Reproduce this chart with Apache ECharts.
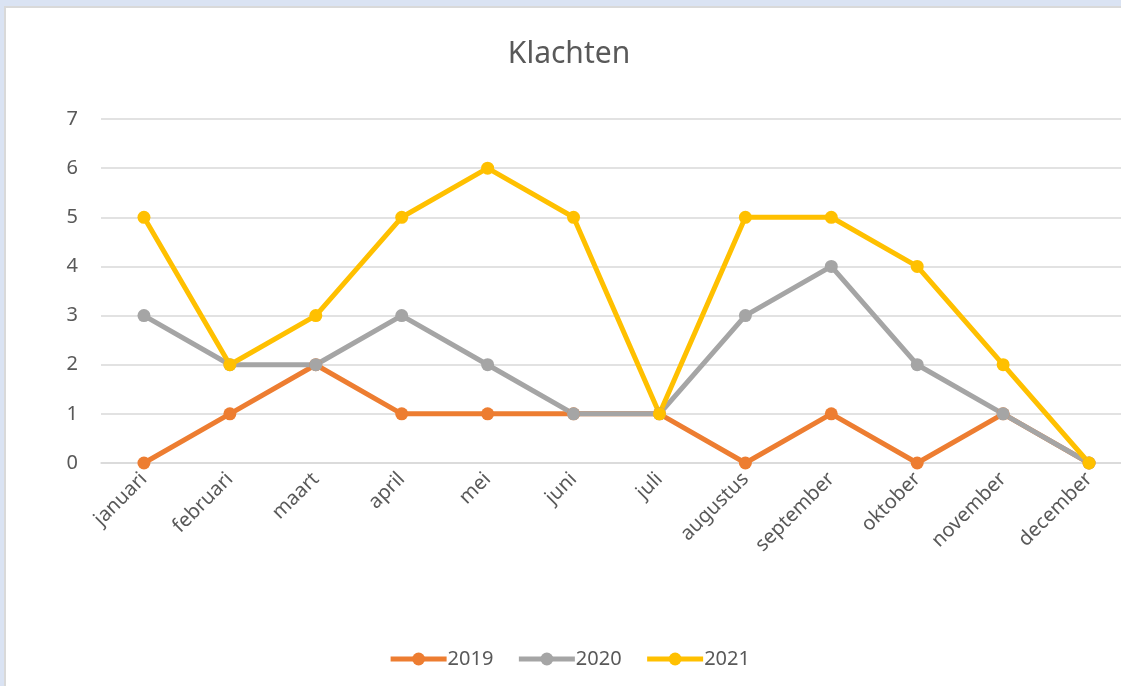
<!DOCTYPE html>
<html>
<head>
<meta charset="utf-8">
<script src="https://cdn.jsdelivr.net/npm/echarts@6/dist/echarts.min.js"></script>
<style>
html,body{margin:0;padding:0;width:1121px;height:686px;overflow:hidden;background:#dae3f3;}
#wrap{position:absolute;left:4px;top:6px;width:1200px;height:700px;border-top:2px solid #d9d9d9;border-left:2px solid #d9d9d9;background:#fff;}
#chart{position:absolute;left:0;top:0;width:1126px;height:678px;}
</style>
</head>
<body>
<div id="wrap"><div id="chart"></div></div>
<script>
const categories = ['januari','februari','maart','april','mei','juni','juli','augustus','september','oktober','november','december'];
const yearLabels = ['2019','2020','2021'];
const values2019 = [0,1,2,1,1,1,1,0,1,0,1,0];
const values2020 = [3,2,2,3,2,1,1,3,4,2,1,0];
const values2021 = [5,2,3,5,6,5,1,5,5,4,2,0];
const colors = ['#ED7D31','#A5A5A5','#FFC000'];
const font = 'Noto Sans';
const textColor = '#595959';

const allValues = [values2019, values2020, values2021];
const chart = echarts.init(document.getElementById('chart'), null, {renderer:'canvas'});
chart.setOption({
  animation:false,
  title:{text:'Klachten',left:'center',top:26,textStyle:{fontFamily:font,fontSize:30,fontWeight:'normal',color:textColor}},
  legend:{bottom:12,left:'center',itemWidth:56,itemHeight:16,itemGap:23,
    lineStyle:{width:5},
    textStyle:{fontFamily:font,fontSize:20,color:textColor,padding:[0,0,0,-4]}},
  grid:{left:95,top:111,width:1032,height:344,containLabel:false},
  xAxis:{type:'category',data:categories,boundaryGap:true,
    axisLine:{show:true,lineStyle:{color:'#d9d9d9',width:1.5}},
    axisTick:{show:false},
    axisLabel:{rotate:45,fontFamily:font,fontSize:20,color:textColor,margin:13,interval:0}},
  yAxis:{type:'value',min:0,max:7,interval:1,
    axisLine:{show:false},axisTick:{show:false},
    splitLine:{lineStyle:{color:'#d9d9d9',width:1.5}},
    axisLabel:{fontFamily:font,fontSize:20,color:textColor,margin:23}},
  series: yearLabels.map((name,i)=>({
    name:name,type:'line',data:allValues[i],
    symbol:'circle',symbolSize:13,
    lineStyle:{width:5,color:colors[i]},
    itemStyle:{color:colors[i]}
  }))
});
</script>
</body>
</html>
